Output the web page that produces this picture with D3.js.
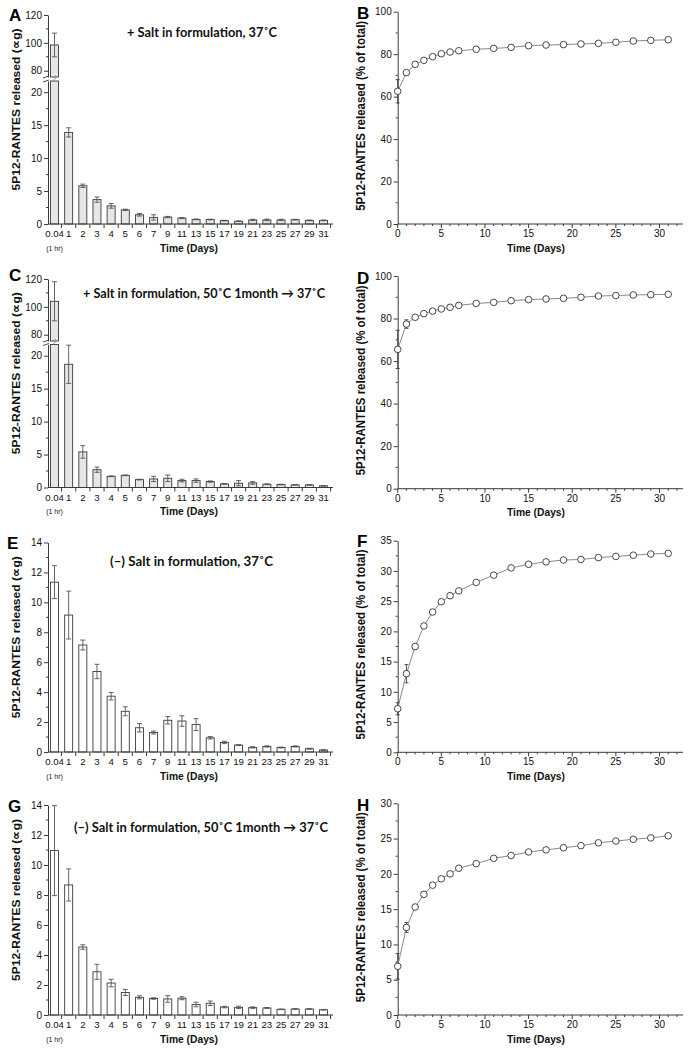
<!DOCTYPE html>
<html><head><meta charset="utf-8">
<script src="https://cdn.jsdelivr.net/npm/d3@7"></script>
<style>body{margin:0;background:#fff}</style>
</head><body><svg id="c" width="695" height="1050"></svg>
<script>
// ---------- data ----------
const barCats = ["0.04","1","2","3","4","5","6","7","9","11","13","15","17","19","21","23","25","27","29","31"];
const lineDays = [0,1,2,3,4,5,6,7,9,11,13,15,17,19,21,23,25,27,29,31];

const aVals = [98.5,13.9,5.8,3.7,2.75,2.15,1.4,1.0,1.05,0.9,0.7,0.68,0.52,0.42,0.62,0.62,0.62,0.66,0.55,0.55];
const aErr  = [8.5,0.7,0.25,0.4,0.35,0.1,0.2,0.4,0.1,0.08,0.05,0.05,0.05,0.05,0.1,0.12,0.1,0.05,0.05,0.05];
const cVals = [104,18.7,5.4,2.7,1.7,1.85,1.2,1.3,1.4,1.05,1.05,0.9,0.55,0.65,0.7,0.5,0.45,0.4,0.4,0.25];
const cErr  = [14,2.9,0.95,0.4,0.05,0.05,0.05,0.4,0.5,0.2,0.25,0.1,0.05,0.4,0.2,0.05,0.05,0.03,0.05,0.03];
const eVals = [11.35,9.15,7.15,5.38,3.73,2.72,1.62,1.3,2.12,2.07,1.83,0.95,0.64,0.46,0.31,0.37,0.3,0.37,0.22,0.13];
const eErr  = [1.1,1.6,0.33,0.48,0.25,0.3,0.28,0.1,0.25,0.35,0.4,0.08,0.08,0.03,0.04,0.04,0.03,0.04,0.03,0.02];
const gVals = [10.96,8.67,4.53,2.88,2.13,1.5,1.18,1.1,1.07,1.12,0.7,0.78,0.53,0.51,0.49,0.47,0.38,0.4,0.4,0.35];
const gErr  = [3,1.07,0.15,0.5,0.25,0.2,0.1,0.05,0.22,0.1,0.15,0.15,0.05,0.08,0.05,0.03,0.02,0.02,0.02,0.02];

const bVals = [62.5,71.3,75.2,77.1,78.8,80.2,81,81.6,82.3,82.7,83.2,84,84.3,84.5,84.8,85.1,85.6,86.2,86.5,86.8];
const bErr  = [5.5,0.8,0.4,0.3,0.3,0.3,0.2,0.2,0.2,0.2,0.2,0.2,0.2,0.2,0.2,0.2,0.2,0.2,0.2,0.2];
const dVals = [65.5,77.4,80.6,82.3,83.5,84.5,85.3,86.2,87.1,87.6,88.4,88.9,89.2,89.5,90,90.6,90.8,91.1,91.2,91.4];
const dErr  = [9,2,0.5,0.4,0.3,0.3,0.3,0.3,0.3,0.3,0.3,0.3,0.3,0.3,0.3,0.3,0.3,0.3,0.3,0.3];
const fVals = [7.2,13.0,17.5,20.9,23.2,24.9,25.9,26.7,28.1,29.3,30.5,31.1,31.5,31.8,31.9,32.2,32.4,32.6,32.8,32.9];
const fErr  = [1,1.5,0.4,0.3,0.3,0.3,0.2,0.2,0.2,0.2,0.2,0.2,0.2,0.2,0.2,0.2,0.2,0.2,0.2,0.2];
const hVals = [6.9,12.4,15.3,17.1,18.4,19.3,20.0,20.8,21.45,22.2,22.6,23.1,23.4,23.7,24.0,24.4,24.65,24.9,25.1,25.4];
const hErr  = [1.8,0.7,0.3,0.2,0.2,0.2,0.2,0.2,0.2,0.2,0.2,0.2,0.2,0.2,0.2,0.2,0.2,0.2,0.2,0.2];

const barYLabel = "5P12-RANTES released (\u221Dg)";
const lineYLabel = "5P12-RANTES released (% of total)";
const xLabel = "Time (Days)";

// ---------- drawing ----------
const svg = d3.select("#c");
const FONT = "'Liberation Sans', Arial, sans-serif";
const TFONT = "Lato, 'Open Sans', sans-serif";
const ink = "#3a3a3a";

function styleAxis(sel) {
  sel.selectAll("path.domain").attr("stroke", ink).attr("stroke-width", 1);
  sel.selectAll(".tick line").attr("stroke", ink);
  sel.selectAll(".tick text").attr("font-family", FONT).attr("font-size", 10).attr("fill", "#111");
}

function minorTicks(g, scale, vals, x0, len) {
  g.selectAll(null).data(vals).enter().append("line")
    .attr("x1", x0).attr("x2", x0 - len)
    .attr("y1", d => scale(d)).attr("y2", d => scale(d))
    .attr("stroke", ink);
}

function yLabel(text, cy, len, baseX, size) {
  svg.append("text")
    .attr("transform", `translate(${baseX},${cy}) rotate(-90)`)
    .attr("text-anchor", "middle")
    .attr("font-family", FONT).attr("font-weight", "bold").attr("font-size", size)
    .attr("textLength", len).attr("lengthAdjust", "spacingAndGlyphs")
    .attr("fill", "#111")
    .text(text);
}

function letter(t, x, y) {
  svg.append("text").attr("x", x).attr("y", y)
    .attr("font-family", FONT).attr("font-weight", "bold").attr("font-size", 17)
    .attr("fill", "#000").text(t);
}

function barPanel(o) {
  const g = svg.append("g");
  const axX = 48, right = 333;
  const x = d3.scalePoint().domain(barCats).range([54.5, 323.5]);
  const step = x.step();
  const bw = 8;
  const top = o.top, bottom = o.bottom;

  let yL, yU = null, gapLow, gapHigh;
  if (o.broken) {
    gapLow = bottom - 143;
    gapHigh = top + 62;
    yL = d3.scaleLinear().domain([0, 21.7]).range([bottom, gapLow]);
    yU = d3.scaleLinear().domain([75.5, 120]).range([gapHigh, top]);
  } else {
    yL = d3.scaleLinear().domain([0, 14]).range([bottom, top]);
  }
  const yOf = v => (o.broken && v > 21.7) ? yU(v) : yL(v);

  // bars
  o.values.forEach((v, i) => {
    const cx = x(barCats[i]);
    if (o.broken && v > 21.7) {
      g.append("rect").attr("x", cx - bw/2).attr("y", gapLow).attr("width", bw).attr("height", bottom - gapLow)
        .attr("fill", o.fill).attr("stroke", ink).attr("stroke-width", 0.9);
      g.append("rect").attr("x", cx - bw/2).attr("y", yU(v)).attr("width", bw).attr("height", gapHigh - yU(v))
        .attr("fill", o.fill).attr("stroke", ink).attr("stroke-width", 0.9);
      [0, 2.5].forEach(dy => {
        g.append("line").attr("x1", cx - 1.5).attr("x2", cx + 1.5)
          .attr("y1", gapLow - 0.5 - dy).attr("y2", gapLow - 3 - dy)
          .attr("stroke", "#777").attr("stroke-width", 0.7);
      });
    } else {
      g.append("rect").attr("x", cx - bw/2).attr("y", yL(v)).attr("width", bw).attr("height", bottom - yL(v))
        .attr("fill", o.fill).attr("stroke", ink).attr("stroke-width", 0.9);
    }
    const e = o.errs[i];
    const yt = yOf(v + e), yb = yOf(v - e);
    g.append("line").attr("x1", cx).attr("x2", cx).attr("y1", yt).attr("y2", yb).attr("stroke", "#555").attr("stroke-width", 0.9);
    [yt, yb].forEach(yy => g.append("line").attr("x1", cx - 2.5).attr("x2", cx + 2.5).attr("y1", yy).attr("y2", yy)
      .attr("stroke", "#555").attr("stroke-width", 0.9));
  });

  // y axis
  if (o.broken) {
    const ga = g.append("g").attr("transform", `translate(${axX},0)`)
      .call(d3.axisLeft(yL).tickValues([0,5,10,15,20]).tickSize(4).tickSizeOuter(0).tickPadding(2));
    styleAxis(ga);
    const gb = g.append("g").attr("transform", `translate(${axX},0)`)
      .call(d3.axisLeft(yU).tickValues([80,100,120]).tickSize(4).tickSizeOuter(0).tickPadding(2));
    styleAxis(gb);
    minorTicks(g, yL, [2.5,7.5,12.5,17.5], axX, 2);
    minorTicks(g, yU, [90,110], axX, 2);
    [gapLow, gapHigh].forEach(yy => {
      g.append("line").attr("x1", axX - 5).attr("x2", axX + 1).attr("y1", yy + 1).attr("y2", yy - 1)
        .attr("stroke", ink).attr("stroke-width", 0.9);
    });
  } else {
    const ga = g.append("g").attr("transform", `translate(${axX},0)`)
      .call(d3.axisLeft(yL).tickValues(d3.range(0, 15, 2)).tickSize(4).tickSizeOuter(0).tickPadding(2));
    styleAxis(ga);
    minorTicks(g, yL, d3.range(1, 14, 2), axX, 2);
  }

  // x axis
  g.append("line").attr("x1", axX).attr("x2", right).attr("y1", bottom).attr("y2", bottom).attr("stroke", ink);
  barCats.forEach((c, i) => {
    const bx = x(c) + step / 2;
    g.append("line").attr("x1", bx).attr("x2", bx).attr("y1", bottom).attr("y2", bottom + 4).attr("stroke", ink);
    g.append("text").attr("x", x(c)).attr("y", bottom + 13).attr("text-anchor", "middle")
      .attr("font-family", FONT).attr("font-size", 9.6).attr("fill", "#111").text(c);
  });
  g.append("text").attr("x", x(barCats[0])).attr("y", bottom + 26.5).attr("text-anchor", "middle")
    .attr("font-family", FONT).attr("font-size", 7).attr("fill", "#111").text("(1 hr)");
  g.append("text").attr("x", 189).attr("y", bottom + 27.5).attr("text-anchor", "middle")
    .attr("font-family", FONT).attr("font-weight", "bold").attr("font-size", 11.5)
    .attr("textLength", 58).attr("lengthAdjust", "spacingAndGlyphs").attr("fill", "#111").text(xLabel);

  g.append("text").attr("x", o.tx).attr("y", o.ty)
    .attr("font-family", TFONT).attr("font-weight", "bold").attr("font-size", 12.5)
    .attr("textLength", o.tlen).attr("lengthAdjust", "spacingAndGlyphs").attr("fill", "#111").text(o.title);

  yLabel(barYLabel, (top + bottom) / 2 - 10, 162, 19.5, 11.5);
  letter(o.letter, o.lx, o.ly);
}

function linePanel(o) {
  const g = svg.append("g");
  const axX = 397.7, right = 683;
  const x = d3.scaleLinear().domain([0, 30]).range([axX, 659.5]);
  const y = d3.scaleLinear().domain([0, o.ymax]).range([o.bottom, o.top]);

  const ga = g.append("g").attr("transform", `translate(${axX},0)`)
    .call(d3.axisLeft(y).tickValues(d3.range(0, o.ymax + 0.01, o.ystep)).tickSize(4).tickSizeOuter(0).tickPadding(2));
  styleAxis(ga);
  minorTicks(g, y, d3.range(o.ystep / 2, o.ymax, o.ystep), axX, 2);

  g.append("line").attr("x1", axX).attr("x2", right).attr("y1", o.bottom).attr("y2", o.bottom).attr("stroke", ink);
  d3.range(0, 33).forEach(d => {
    const major = d % 5 === 0;
    g.append("line").attr("x1", x(d)).attr("x2", x(d)).attr("y1", o.bottom).attr("y2", o.bottom + (major ? 4 : 2)).attr("stroke", ink);
    if (major) g.append("text").attr("x", x(d)).attr("y", o.bottom + 13).attr("text-anchor", "middle")
      .attr("font-family", FONT).attr("font-size", 10).attr("fill", "#111").text(d);
  });
  g.append("text").attr("x", 536).attr("y", o.bottom + 27.5).attr("text-anchor", "middle")
    .attr("font-family", FONT).attr("font-weight", "bold").attr("font-size", 11.5)
    .attr("textLength", 58).attr("lengthAdjust", "spacingAndGlyphs").attr("fill", "#111").text(xLabel);

  o.values.forEach((v, i) => {
    const e = o.errs[i];
    const cx = x(lineDays[i]);
    g.append("line").attr("x1", cx).attr("x2", cx).attr("y1", y(v + e)).attr("y2", y(v - e)).attr("stroke", ink).attr("stroke-width", 0.9);
    [v + e, v - e].forEach(vv => g.append("line").attr("x1", cx - 2).attr("x2", cx + 2).attr("y1", y(vv)).attr("y2", y(vv))
      .attr("stroke", ink).attr("stroke-width", 0.9));
  });
  g.append("path").datum(o.values)
    .attr("d", d3.line().x((d, i) => x(lineDays[i])).y(d => y(d)))
    .attr("fill", "none").attr("stroke", "#8a8a8a").attr("stroke-width", 1);
  g.selectAll(null).data(o.values).enter().append("circle")
    .attr("cx", (d, i) => x(lineDays[i])).attr("cy", d => y(d)).attr("r", 3.3)
    .attr("fill", "#fff").attr("stroke", "#333").attr("stroke-width", 0.9);

  yLabel(lineYLabel, (o.top + o.bottom) / 2 - 2, 190, 364.5, 12);
  letter(o.letter, o.lx, o.ly);
}

barPanel({letter: "A", lx: 9, ly: 21, top: 15, bottom: 224, broken: true, fill: "#e6e6e6",
  values: aVals, errs: aErr, title: "+ Salt in formulation, 37\u02DAC", tx: 127, ty: 37, tlen: 150});
barPanel({letter: "C", lx: 9, ly: 281, top: 279, bottom: 487.5, broken: true, fill: "#e6e6e6",
  values: cVals, errs: cErr, title: "+ Salt in formulation, 50\u02DAC 1month \u2192 37\u02DAC", tx: 83, ty: 297.5, tlen: 242});
barPanel({letter: "E", lx: 7, ly: 549, top: 542.5, bottom: 752, broken: false, fill: "#fff",
  values: eVals, errs: eErr, title: "(\u2013) Salt in formulation, 37\u02DAC", tx: 110, ty: 566, tlen: 163});
barPanel({letter: "G", lx: 8, ly: 812, top: 805, bottom: 1015, broken: false, fill: "#fff",
  values: gVals, errs: gErr, title: "(\u2013) Salt in formulation, 50\u02DAC 1month \u2192 37\u02DAC", tx: 74, ty: 832, tlen: 254});

linePanel({letter: "B", lx: 357, ly: 19, top: 11.7, bottom: 224, ymax: 100, ystep: 20, values: bVals, errs: bErr});
linePanel({letter: "D", lx: 357, ly: 284, top: 276, bottom: 488.7, ymax: 100, ystep: 20, values: dVals, errs: dErr});
linePanel({letter: "F", lx: 357, ly: 547, top: 540.7, bottom: 752.3, ymax: 35, ystep: 5, values: fVals, errs: fErr});
linePanel({letter: "H", lx: 357, ly: 811, top: 803.3, bottom: 1015, ymax: 30, ystep: 5, values: hVals, errs: hErr});
</script>
</body></html>
